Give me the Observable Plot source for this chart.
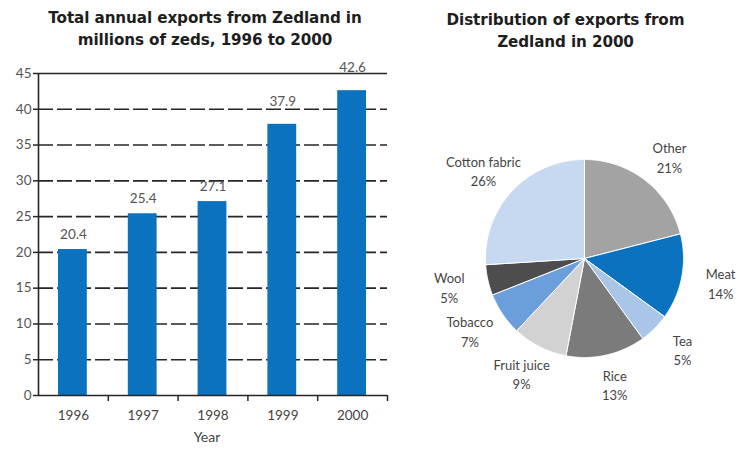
<!DOCTYPE html>
<html>
<head>
<meta charset="utf-8">
<script src="https://cdn.jsdelivr.net/npm/d3@7"></script>
<script src="https://cdn.jsdelivr.net/npm/@observablehq/plot@0.6"></script>
<style>
  html, body { margin: 0; padding: 0; background: #fff; }
  #wrap { position: relative; width: 741px; height: 449px; overflow: hidden; font-family: Lato, "DejaVu Sans", sans-serif; }
  .title { position: absolute; text-align: center; font-family: "DejaVu Sans", sans-serif; font-weight: 700; font-size: 15.2px; line-height: 22px; color: #1e1e1e; letter-spacing: -0.1px; }
  #t1 { left: 5px; width: 400px; top: 7px; }
  #t2 { left: 390px; width: 351px; top: 9px; }
  #left { position: absolute; left: 0; top: 60px; }
  #right { position: absolute; left: 400px; top: 0; }
</style>
</head>
<body>
<div id="wrap">
  <div class="title" id="t1">Total annual exports from Zedland in<br>millions of zeds, 1996 to 2000</div>
  <div class="title" id="t2">Distribution of exports from<br>Zedland in 2000</div>
  <div id="left"></div>
  <div id="right"></div>
</div>
<script>
const years = ["1996", "1997", "1998", "1999", "2000"];
const exportValues = [20.4, 25.4, 27.1, 37.9, 42.6];
const yTicks = [0, 5, 10, 15, 20, 25, 30, 35, 40, 45];
const gridLevels = [5, 10, 15, 20, 25, 30, 35, 40];

const categories = ["Other", "Meat", "Tea", "Rice", "Fruit juice", "Tobacco", "Wool", "Cotton fabric"];
const shares = [21, 14, 5, 13, 9, 7, 5, 26];
const sliceColors = ["#a3a3a3", "#0b72bf", "#a9c5e8", "#7b7b7b", "#d2d2d2", "#6b9fdc", "#4d4d4d", "#c7d9f0"];

const bars = years.map((year, i) => ({year, i, value: exportValues[i]}));

const left = Plot.plot({
  width: 400,
  height: 389,
  marginLeft: 38,
  marginRight: 13,
  marginTop: 13,
  marginBottom: 54,
  style: {fontFamily: "Lato, 'DejaVu Sans', sans-serif", fontSize: "13px", color: "#444"},
  x: {domain: [0, years.length], axis: null},
  y: {domain: [0, 45], axis: null},
  marks: [
    Plot.ruleY(gridLevels, {stroke: "#262626", strokeWidth: 1.6, strokeDasharray: "15,4"}),
    Plot.rectY(bars, {x1: "i", x2: d => d.i + 1, y: "value", insetLeft: 20, insetRight: 21, fill: "#0b72bf"}),
    Plot.ruleY([0, 45], {stroke: "#262626", strokeWidth: 1.6}),
    Plot.ruleX([0], {y1: 0, y2: 45, stroke: "#262626", strokeWidth: 1.6}),
    Plot.axisY({ticks: yTicks, tickSize: 5, tickPadding: 2, stroke: "#262626", strokeWidth: 1.5, fill: "#555", fontSize: 13.5, label: null}),
    Plot.axisX({ticks: d3.range(1, years.length + 1), tickSize: 6, stroke: "#262626", strokeWidth: 1.5, tickFormat: () => "", label: null}),
    Plot.axisX({ticks: bars.map(d => d.i + 0.5), tickSize: 0, tickPadding: 15, tickFormat: v => years[Math.round(v - 0.5)], fill: "#444", fontSize: 13.5, label: null}),
    Plot.text(bars.filter(d => d.value < 35), {x: d => d.i + 0.5, y: "value", text: d => d.value.toFixed(1), dy: -15, fill: "#555", fontSize: 13.5}),
    Plot.text(bars.filter(d => d.value >= 35), {x: d => d.i + 0.5, y: "value", text: d => d.value.toFixed(1), dy: -23, fill: "#555", fontSize: 13.5}),
    Plot.text(["Year"], {frameAnchor: "bottom", dy: 46, dx: -6, fill: "#444", fontSize: 14})
  ]
});
document.getElementById("left").appendChild(left);

// Pie slices as polygons computed from d3.pie angles
const pie = d3.pie().sort(null).value(d => d.share);
const arcs = pie(categories.map((category, i) => ({category, share: shares[i]})));
const slicePoints = [];
for (const a of arcs) {
  const cat = a.data.category;
  slicePoints.push({category: cat, x: 0, y: 0});
  const n = Math.max(2, Math.ceil((a.endAngle - a.startAngle) / 0.01));
  for (let k = 0; k <= n; k++) {
    const t = a.startAngle + (a.endAngle - a.startAngle) * k / n;
    slicePoints.push({category: cat, x: Math.sin(t), y: Math.cos(t)});
  }
  slicePoints.push({category: cat, x: 0, y: 0});
}
const labelRx = 1.4, labelRy = 1.3;
const labels = arcs.map(a => {
  const m = (a.startAngle + a.endAngle) / 2;
  return {x: labelRx * Math.sin(m), y: labelRy * Math.cos(m), text: a.data.category + "\n" + a.data.share + "%"};
});

const right = Plot.plot({
  width: 341,
  height: 449,
  margin: 0,
  style: {fontFamily: "Lato, 'DejaVu Sans', sans-serif", fontSize: "13px"},
  x: {domain: [-1, 1], range: [85, 283], axis: null},
  y: {domain: [-1, 1], range: [357, 159], axis: null},
  color: {domain: categories, range: sliceColors},
  marks: [
    Plot.line(slicePoints, {x: "x", y: "y", z: "category", fill: "category", stroke: "white", strokeWidth: 1, curve: "linear"}),
    Plot.text(labels, {x: "x", y: "y", text: "text", fill: "#444", fontSize: 13, lineHeight: 1.5})
  ]
});
document.getElementById("right").appendChild(right);
</script>
</body>
</html>
